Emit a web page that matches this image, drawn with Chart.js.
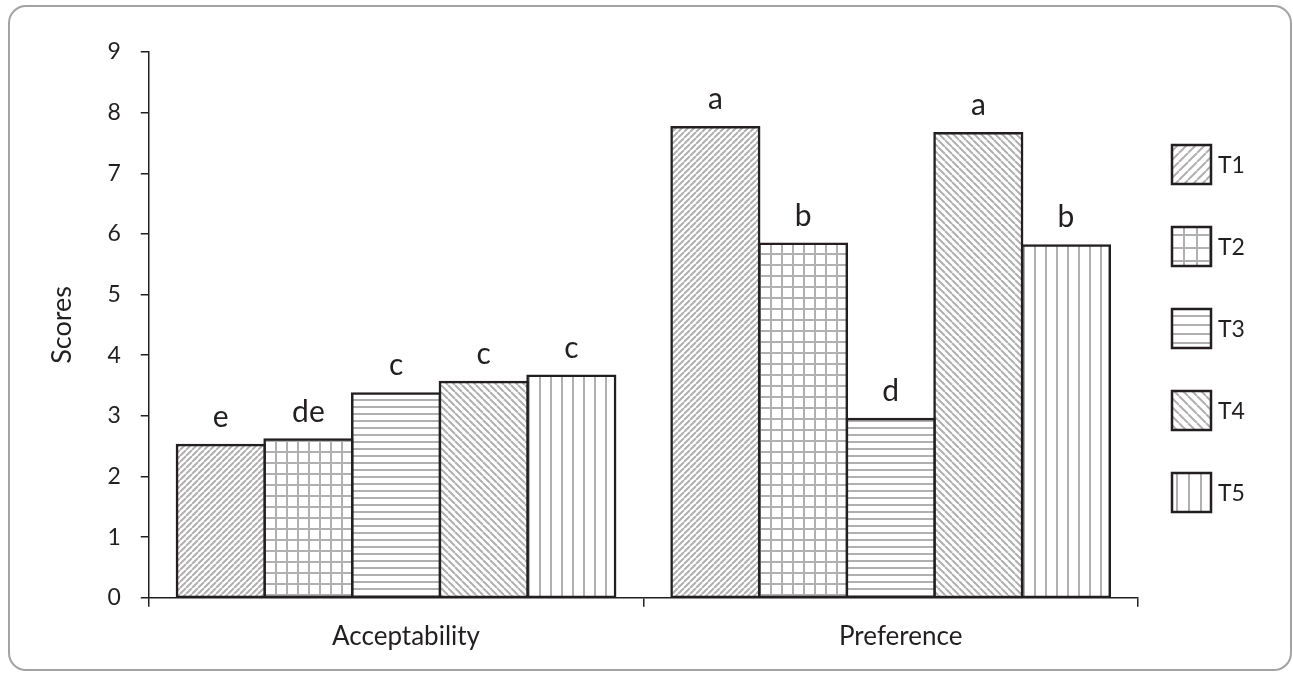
<!DOCTYPE html>
<html>
<head>
<meta charset="utf-8">
<script src="https://cdn.jsdelivr.net/npm/chart.js@4.4.1/dist/chart.umd.min.js"></script>
<style>
    html, body { margin: 0; padding: 0; background: #fff; }
    #wrap { position: relative; width: 1293px; height: 676px; }
    #frame {
        position: absolute; left: 8px; top: 5px; width: 1284px; height: 666px;
        box-sizing: border-box; border: 2px solid #a3a3a3; border-radius: 18px;
    }
    canvas { position: absolute; left: 0; top: 0; }
</style>
</head>
<body>
<div id="wrap">
    <div id="frame"></div>
    <canvas id="chart" width="1293" height="676"></canvas>
</div>
<script>
const categories = ["Acceptability", "Preference"];
const seriesNames = ["T1", "T2", "T3", "T4", "T5"];

const t1Scores = [2.52, 7.76];
const t2Scores = [2.61, 5.84];
const t3Scores = [3.37, 2.95];
const t4Scores = [3.56, 7.66];
const t5Scores = [3.66, 5.81];

// significance letters printed above each bar
const t1Letters = ["e", "a"];
const t2Letters = ["de", "b"];
const t3Letters = ["c", "d"];
const t4Letters = ["c", "a"];
const t5Letters = ["c", "b"];

const yMin = 0;
const yMax = 9;
const yStep = 1;

const INK = "#231f20";
const HATCH = "#b0b0b0";
const FONT = "Lato";

// hatch fills, built on a small canvas and repeated
const makePattern = (kind, size) => {
    const c = document.createElement("canvas");
    c.width = size;
    c.height = size;
    const g = c.getContext("2d");
    g.fillStyle = "#fff";
    g.fillRect(0, 0, size, size);
    g.strokeStyle = HATCH;
    g.lineWidth = 2;
    g.beginPath();
    if (kind === "up") {
        for (let k = -1; k <= 1; k++) {
            g.moveTo(k * size, size);
            g.lineTo(k * size + size, 0);
        }
    } else if (kind === "down") {
        for (let k = -1; k <= 1; k++) {
            g.moveTo(k * size, 0);
            g.lineTo(k * size + size, size);
        }
    } else if (kind === "grid") {
        g.moveTo(0, 1); g.lineTo(size, 1);
        g.moveTo(1, 0); g.lineTo(1, size);
    } else if (kind === "hor") {
        g.moveTo(0, 1); g.lineTo(size, 1);
    } else if (kind === "ver") {
        g.moveTo(1, 0); g.lineTo(1, size);
    }
    g.stroke();
    return g.createPattern(c, "repeat");
};

const barPatterns = [
    makePattern("up", 6),
    makePattern("grid", 11),
    makePattern("hor", 7),
    makePattern("down", 7),
    makePattern("ver", 11)
];
const legendPatterns = [
    makePattern("up", 9),
    makePattern("grid", 13),
    makePattern("hor", 9),
    makePattern("down", 9),
    makePattern("ver", 12)
];

const seriesValues = [t1Scores, t2Scores, t3Scores, t4Scores, t5Scores];
const seriesLetters = [t1Letters, t2Letters, t3Letters, t4Letters, t5Letters];

const letterPlugin = {
    id: "letters",
    afterDatasetsDraw(chart) {
        const { ctx } = chart;
        ctx.save();
        ctx.font = "30px " + FONT;
        ctx.fillStyle = INK;
        ctx.textAlign = "center";
        ctx.textBaseline = "alphabetic";
        chart.data.datasets.forEach((ds, i) => {
            chart.getDatasetMeta(i).data.forEach((bar, j) => {
                ctx.fillText(seriesLetters[i][j], bar.x, bar.y - 18);
            });
        });
        ctx.restore();
    }
};

// key column to the right of the plot
const keyPlugin = {
    id: "key",
    afterDraw(chart) {
        const { ctx, chartArea } = chart;
        const box = 39;
        const step = 82;
        const left = chartArea.right + 34;
        const top = 145;
        ctx.save();
        ctx.font = "23px " + FONT;
        ctx.textBaseline = "middle";
        ctx.textAlign = "left";
        chart.data.datasets.forEach((ds, i) => {
            const y = top + i * step;
            ctx.fillStyle = legendPatterns[i];
            ctx.fillRect(left, y, box, box);
            ctx.strokeStyle = INK;
            ctx.lineWidth = 2.5;
            ctx.strokeRect(left, y, box, box);
            ctx.fillStyle = INK;
            ctx.fillText(ds.label, left + box + 7, y + box / 2 + 1);
        });
        ctx.restore();
    }
};

const data = {
    labels: categories,
    datasets: seriesNames.map((name, i) => ({
        label: name,
        data: seriesValues[i],
        backgroundColor: barPatterns[i],
        borderColor: INK,
        borderWidth: 2.5,
        borderSkipped: false,
        inflateAmount: 1.25,
        categoryPercentage: 0.886,
        barPercentage: 1
    }))
};

const options = {
    responsive: false,
    animation: false,
    layout: { padding: { top: 52, bottom: 10, left: 20, right: 155 } },
    plugins: {
        tooltip: { enabled: false },
        legend: { display: false }
    },
    scales: {
        x: {
            grid: {
                offset: true,
                drawOnChartArea: false,
                drawTicks: true,
                tickLength: 9,
                color: INK,
                lineWidth: 1.5
            },
            border: { display: true, color: INK, width: 1.5 },
            ticks: {
                color: INK,
                font: { family: FONT, size: 26 },
                padding: 14,
                labelOffset: 10
            }
        },
        y: {
            min: yMin,
            max: yMax,
            grid: {
                drawOnChartArea: false,
                drawTicks: true,
                tickLength: 8,
                color: INK,
                lineWidth: 1.5
            },
            border: { display: true, color: INK, width: 1.5 },
            ticks: {
                stepSize: yStep,
                color: INK,
                font: { family: FONT, size: 23 },
                padding: 20
            },
            title: {
                display: true,
                text: "Scores",
                color: INK,
                font: { family: FONT, size: 27 },
                padding: { top: 26, bottom: 9 }
            }
        }
    }
};

new Chart(document.getElementById("chart"), {
    type: "bar",
    data,
    options,
    plugins: [letterPlugin, keyPlugin]
});
</script>
</body>
</html>
